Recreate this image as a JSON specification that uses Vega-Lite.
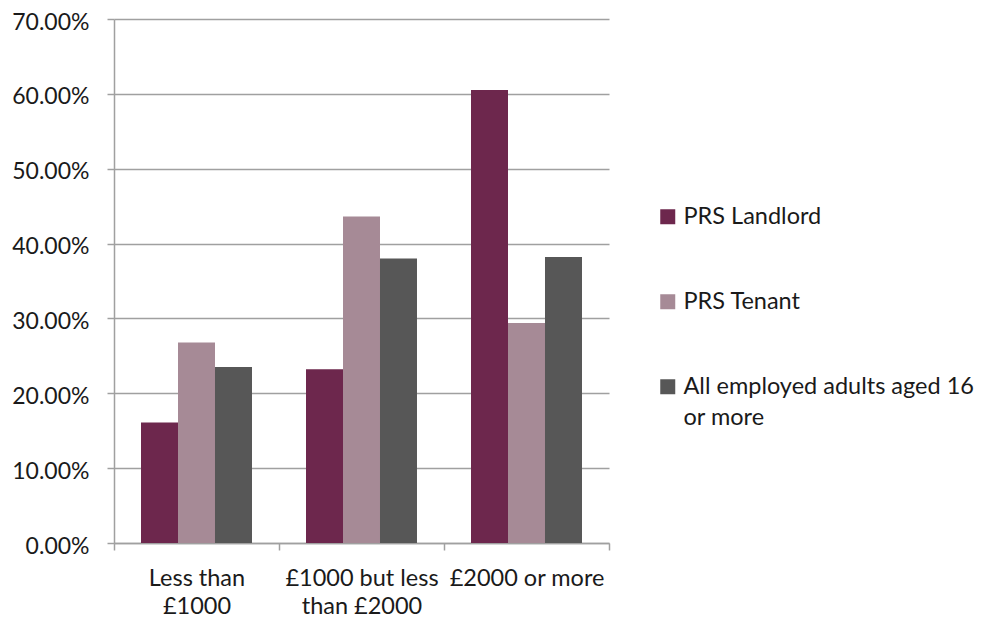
{
  "$schema": "https://vega.github.io/schema/vega-lite/v6.json",
  "width": 495,
  "height": 524,
  "autosize": "none",
  "padding": {"left": 114, "top": 19, "right": 380, "bottom": 78},
  "background": "white",
  "config": {
    "view": {"stroke": null},
    "font": "Lato",
    "axis": {"labelFont": "Lato", "labelColor": "#1a1a1a"},
    "legend": {"labelFont": "Lato", "labelColor": "#1a1a1a"},
    "style": {"guide-label": {"lineHeight": 31}}
  },
  "data": {
    "values": [
      {"category": "Less than £1000", "series": "PRS Landlord", "value": 0.161},
      {"category": "Less than £1000", "series": "PRS Tenant", "value": 0.268},
      {"category": "Less than £1000", "series": "All employed adults aged 16 or more", "value": 0.235},
      {"category": "£1000 but less than £2000", "series": "PRS Landlord", "value": 0.232},
      {"category": "£1000 but less than £2000", "series": "PRS Tenant", "value": 0.436},
      {"category": "£1000 but less than £2000", "series": "All employed adults aged 16 or more", "value": 0.380},
      {"category": "£2000 or more", "series": "PRS Landlord", "value": 0.605},
      {"category": "£2000 or more", "series": "PRS Tenant", "value": 0.294},
      {"category": "£2000 or more", "series": "All employed adults aged 16 or more", "value": 0.382}
    ]
  },
  "mark": {"type": "bar"},
  "encoding": {
    "x": {
      "field": "category",
      "type": "nominal",
      "sort": ["Less than £1000", "£1000 but less than £2000", "£2000 or more"],
      "scale": {"paddingInner": 0, "paddingOuter": 0},
      "axis": {
        "title": null,
        "labelAngle": 0,
        "tickBand": "extent",
        "labelExpr": "datum.label == 'Less than £1000' ? ['Less than', '£1000'] : datum.label == '£1000 but less than £2000' ? ['£1000 but less', 'than £2000'] : datum.label",
        "labelFontSize": 23.5,
        "labelLineHeight": 28,
        "labelPadding": 16,
        "labelLimit": 300,
        "domainColor": "#a0a0a0",
        "domainWidth": 1.5,
        "tickColor": "#a0a0a0",
        "tickWidth": 1.5,
        "tickSize": 7,
        "grid": false
      }
    },
    "xOffset": {
      "field": "series",
      "sort": ["PRS Landlord", "PRS Tenant", "All employed adults aged 16 or more"],
      "scale": {"paddingInner": 0, "paddingOuter": 0.73}
    },
    "y": {
      "field": "value",
      "type": "quantitative",
      "scale": {"domain": [0, 0.7], "nice": false},
      "axis": {
        "title": null,
        "format": ".2%",
        "values": [0, 0.1, 0.2, 0.3, 0.4, 0.5, 0.6, 0.7],
        "labelFontSize": 23,
        "labelPadding": 18,
        "labelOffset": 3,
        "gridColor": "#a0a0a0",
        "gridWidth": 1.5,
        "domainColor": "#a0a0a0",
        "domainWidth": 1.5,
        "tickColor": "#a0a0a0",
        "tickWidth": 1.5,
        "tickSize": 7
      }
    },
    "color": {
      "field": "series",
      "type": "nominal",
      "sort": ["PRS Landlord", "PRS Tenant", "All employed adults aged 16 or more"],
      "scale": {"range": ["#6d274d", "#a68a96", "#575757"]},
      "legend": {
        "title": null,
        "orient": "none",
        "legendX": 542,
        "legendY": 186,
        "symbolType": "square",
        "symbolSize": 225,
        "symbolStrokeWidth": 0,
        "labelFontSize": 23.5,
        "labelLimit": 400,
        "rowPadding": 60,
        "labelExpr": "datum.label == 'All employed adults aged 16 or more' ? ['All employed adults aged 16', 'or more'] : datum.label"
      }
    }
  }
}
